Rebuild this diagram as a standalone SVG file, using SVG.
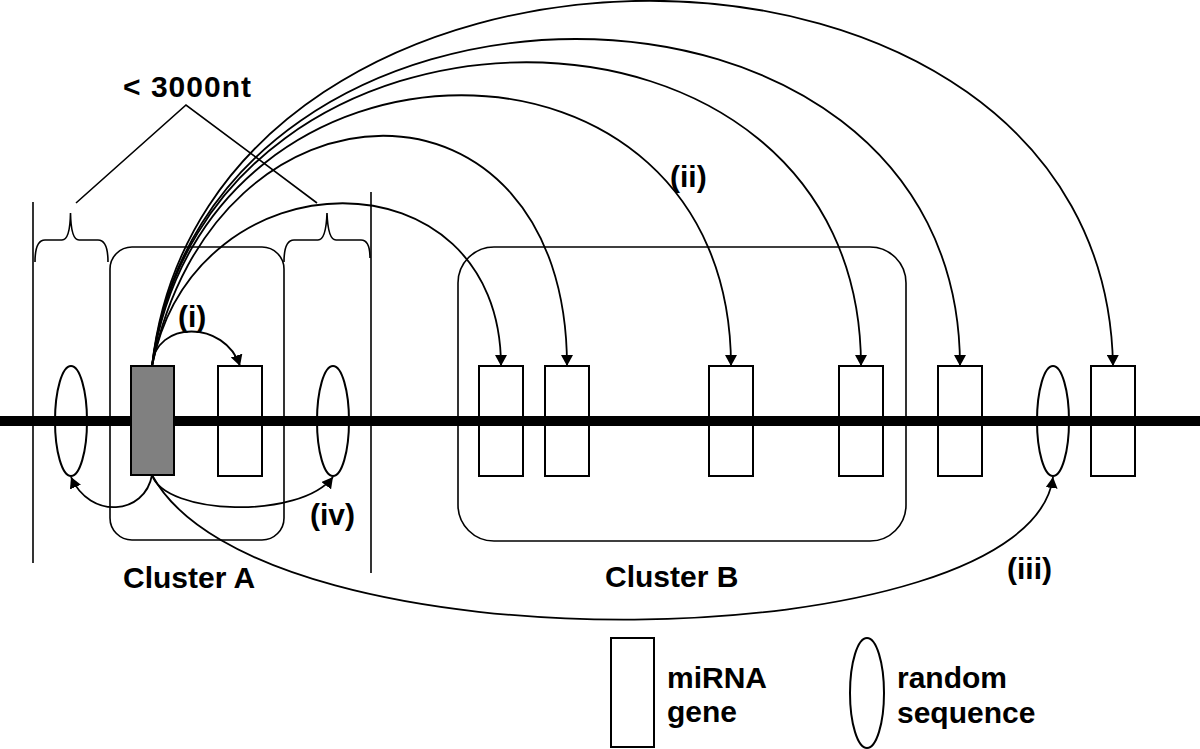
<svg xmlns="http://www.w3.org/2000/svg" width="1200" height="749" viewBox="0 0 1200 749">
<style>
.ln{fill:none;stroke:#000;stroke-width:2}
.th{fill:none;stroke:#000;stroke-width:1.6}
.gene{fill:none;stroke:#000;stroke-width:2}
.t{font-family:"Liberation Sans",Arial,sans-serif;font-weight:bold;font-size:30px;fill:#000}
.arr{fill:none;stroke:#000;stroke-width:1.8;marker-end:url(#ah)}
</style>
<defs>
<marker id="ah" markerUnits="userSpaceOnUse" markerWidth="12" markerHeight="12" refX="11" refY="6" orient="auto" viewBox="0 0 12 12">
<path d="M0,0 L11,6 L0,12 z" fill="#000"/>
</marker>
</defs>
<rect width="1200" height="749" fill="#fff"/>

<g id="brackets">
<line class="th" x1="33" y1="202" x2="33" y2="563"/>
<line class="th" x1="371" y1="192" x2="371" y2="573"/>
<path class="th" d="M35,262 Q35,240 45,240 L62,240 Q70,240 70.5,213 Q71,240 79,240 L98,240 Q108,240 108,262"/>
<path class="th" d="M284,262 Q284,240 294,240 L318,240 Q326,240 327,213 Q328,240 336,240 L361,240 Q370,240 370,258"/>
<path class="th" d="M76,203 L186,105 L317,203"/>
<text class="t" x="123" y="97" textLength="128">&lt; 3000nt</text>
</g>

<g id="clusterA">
<rect class="th" x="110" y="247" width="174" height="293" rx="22"/>
<text class="t" x="123" y="588">Cluster A</text>
</g>
<g id="clusterB">
<rect class="th" x="458" y="247" width="448" height="294" rx="36"/>
<text class="t" x="605" y="587">Cluster B</text>
</g>

<g id="chromosome">
<line x1="0" y1="421" x2="1200" y2="421" stroke="#000" stroke-width="10"/>
</g>

<g id="genes">
<rect x="131" y="366" width="43" height="109" fill="#808080" stroke="#000" stroke-width="2"/>
<rect class="gene" x="218" y="366" width="44" height="110"/>
<rect class="gene" x="479" y="366" width="44" height="110"/>
<rect class="gene" x="545" y="366" width="44" height="110"/>
<rect class="gene" x="709" y="366" width="44" height="110"/>
<rect class="gene" x="839" y="366" width="44" height="110"/>
<rect class="gene" x="938" y="366" width="44" height="110"/>
<rect class="gene" x="1091" y="366" width="44" height="110"/>
</g>
<g id="randoms">
<ellipse class="gene" cx="71" cy="421" rx="16" ry="55"/>
<ellipse class="gene" cx="333" cy="421" rx="16" ry="55"/>
<ellipse class="gene" cx="1053" cy="421" rx="16" ry="55"/>
</g>

<g id="connectors">
<path class="arr" d="M152,366 C155,320 225,320 240,366"/>
<path class="arr" d="M152,366 C195,149 501,149 501,366"/>
<path class="arr" d="M152,366 C215,59 567,59 567,366"/>
<path class="arr" d="M152,366 C205,5 731,5 731,366"/>
<path class="arr" d="M152,366 C205,-39 861,-39 861,366"/>
<path class="arr" d="M152,366 C205,-70 960,-70 960,366"/>
<path class="arr" d="M152,366 C206,-121 1105,-121 1113,366"/>
<path class="arr" d="M152,475 C145,515 90,520 71,477"/>
<path class="arr" d="M152,475 C165,515 300,520 333,477"/>
<path class="arr" d="M152,475 C260,675 1030,660 1053,477"/>
</g>

<g id="labels">
<text class="t" x="178" y="327">(i)</text>
<text class="t" x="670" y="187">(ii)</text>
<text class="t" x="1007" y="579">(iii)</text>
<text class="t" x="310" y="525">(iv)</text>
</g>

<g id="legend">
<rect class="gene" x="611" y="638" width="43" height="109"/>
<text class="t" x="667" y="688">miRNA</text>
<text class="t" x="667" y="722">gene</text>
<ellipse class="gene" cx="867" cy="693" rx="17" ry="55"/>
<text class="t" x="897" y="688">random</text>
<text class="t" x="897" y="723">sequence</text>
</g>
</svg>
